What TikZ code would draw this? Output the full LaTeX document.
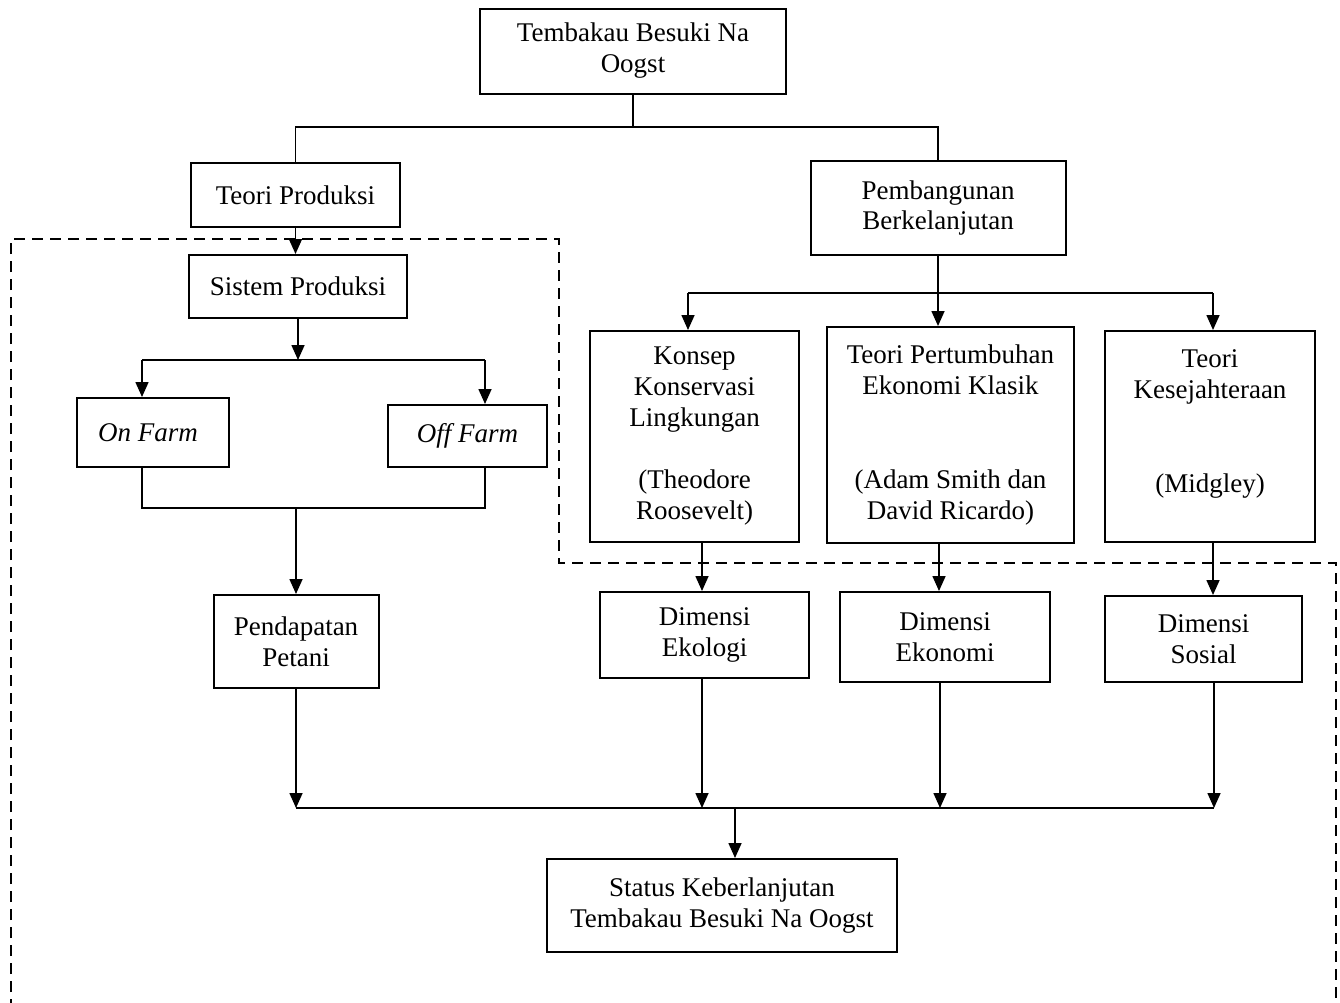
\documentclass[tikz,border=0pt]{standalone}
\usepackage{fontspec}
\setmainfont{Liberation Serif}
\usetikzlibrary{arrows.meta}
\begin{document}
\begin{tikzpicture}[x=1pt,y=-1pt,
  box/.style={draw, line width=2pt, align=center, inner sep=0pt, font=\fontsize{27}{31}\selectfont},
  conn/.style={line width=1.6pt},
  arr/.style={line width=1.6pt, -{Triangle[length=15pt,width=13pt]}},
  dashbound/.style={line width=2.6pt, dash pattern=on 11pt off 7pt}]
\useasboundingbox (0,0) rectangle (1340,1002);
\fill[white] (0,0) rectangle (1340,1002);

% boxes
\node[box, minimum width=306pt, minimum height=85pt] (top) at (633,51) {Tembakau Besuki Na\\Oogst};
\node[box, minimum width=209pt, minimum height=64pt] (teori) at (295.5,195) {Teori Produksi};
\node[box, minimum width=255pt, minimum height=94pt] (pemb) at (938,208) {Pembangunan\\Berkelanjutan};
\node[box, minimum width=218pt, minimum height=63pt] (sis) at (298,286.5) {Sistem Produksi};
\node[box, minimum width=152pt, minimum height=69pt] (on) at (153,432.5) {\textit{On Farm}\hspace*{10pt}};
\node[box, minimum width=159pt, minimum height=62pt] (off) at (467.5,436) {\textit{Off Farm}};
\node[box, minimum width=165pt, minimum height=93pt] (pend) at (296,641.5) {Pendapatan\\Petani};
\node[box, minimum width=209pt, minimum height=211pt] (kons) at (694.5,436.5) {Konsep\\Konservasi\\Lingkungan\\[31pt](Theodore\\Roosevelt)};
\node[box, minimum width=247pt, minimum height=216pt] (tpe) at (950.5,435) {Teori Pertumbuhan\\Ekonomi Klasik\\[63pt](Adam Smith dan\\David Ricardo)};
\node[box, minimum width=210pt, minimum height=211pt] (kes) at (1210,436.5) {Teori\\Kesejahteraan\\[63pt](Midgley)\\\mbox{}};
\node[box, minimum width=209pt, minimum height=86pt] (ekol) at (704.5,635) {Dimensi\\Ekologi};
\node[box, minimum width=210pt, minimum height=90pt] (ekon) at (945,637) {Dimensi\\Ekonomi};
\node[box, minimum width=197pt, minimum height=86pt] (sos) at (1203.5,639) {Dimensi\\Sosial};
\node[box, minimum width=350pt, minimum height=93pt] (status) at (722,905.5) {Status Keberlanjutan\\Tembakau Besuki Na Oogst};

% junction coordinates
\coordinate (j0) at (633,127);
\coordinate (j1) at (298,360);
\coordinate (jon) at (142,360);
\coordinate (joff) at (485,360);
\coordinate (jb1) at (142,508);
\coordinate (jb2) at (485,508);
\coordinate (jb) at (296,508);
\coordinate (k1) at (688,293);
\coordinate (k2) at (939,293);
\coordinate (k3) at (1213,293);
\coordinate (b1) at (296,808);
\coordinate (b2) at (702,808);
\coordinate (b3) at (940,808);
\coordinate (b4) at (1214,808);
\coordinate (bm) at (735,808);

% top connectors
\draw[conn] (top.south) -- (j0);
\draw[conn] (teori.north) |- (j0) -| (pemb.north);

% left branch
\draw[arr] (teori.south) -- (teori.south |- sis.north);
\draw[arr] (sis.south) -- (j1);
\draw[conn] (jon) -- (joff);
\draw[arr] (jon) -- (jon |- on.north);
\draw[arr] (joff) -- (joff |- off.north);
\draw[conn] (jb1 |- on.south) -- (jb1) -- (jb2) -- (jb2 |- off.south);
\draw[arr] (jb) -- (pend.north);

% right branch
\draw[arr] (pemb.south) -- (pemb.south |- tpe.north);
\draw[conn] (k1) -- (k3);
\draw[arr] (k1) -- (k1 |- kons.north);
\draw[arr] (k3) -- (k3 |- kes.north);
\draw[arr] (b2 |- kons.south) -- (b2 |- ekol.north);
\draw[arr] (k2 |- tpe.south) -- (k2 |- ekon.north);
\draw[arr] (k3 |- kes.south) -- (k3 |- sos.north);

% bottom
\draw[arr] (pend.south) -- (b1);
\draw[arr] (b2 |- ekol.south) -- (b2);
\draw[arr] (b3 |- ekon.south) -- (b3);
\draw[arr] (b4 |- sos.south) -- (b4);
\draw[conn] (b1) -- (b4);
\draw[arr] (bm) -- (bm |- status.north);

% dashed boundary
\draw[dashbound] (11,1010) -- (11,239) -- (559,239) -- (559,563) -- (1336,563) -- (1336,1010);
\end{tikzpicture}
\end{document}
